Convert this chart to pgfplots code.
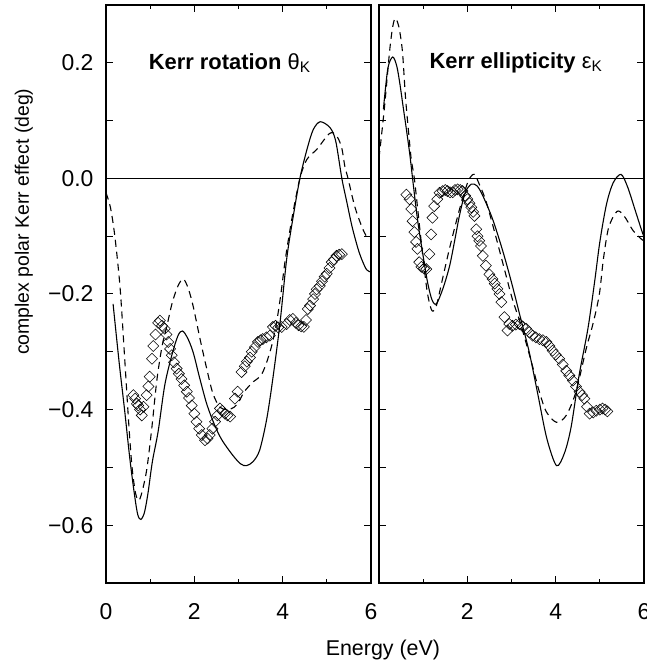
\documentclass[border=0pt]{standalone}
\usepackage{fontspec}
\setmainfont{Liberation Sans}
\usepackage{pgfplots}
\pgfplotsset{compat=1.18}
\begin{document}
\begin{tikzpicture}
\pgfplotsset{
  kerr/.style={
    scale only axis, width=265bp, height=578bp,
    xmin=0, xmax=6, ymin=-0.7, ymax=0.3,
    xtick={0,2,4,6}, minor xtick={1,3,5},
    ytick={-0.6,-0.5,-0.4,-0.3,-0.2,-0.1,0,0.1,0.2},
    tick align=inside, xtick pos=both, ytick pos=both,
    major tick length=7bp, minor tick length=4bp,
    every tick/.style={black, line width=1bp},
    axis line style={line width=1.4bp},
    tick label style={font=\fontsize{23}{27}\selectfont},
    xticklabel style={yshift=-17bp},
    yticklabel style={xshift=-9bp},
    /pgf/number format/assume math mode=true,
  },
  th/.style={black, line width=1.1bp, smooth, no markers},
  thd/.style={black, line width=1.1bp, smooth, no markers, dash pattern=on 7bp off 5bp},
  ex/.style={only marks, mark=square, mark size=3.9bp, mark options={rotate=45, line width=0.55bp, black, fill=none}},
}
% ---------------- left panel: Kerr rotation ----------------
\begin{axis}[kerr, at={(0bp,0bp)}, anchor=south west,
  xticklabels={0,2,4,6},
  yticklabels={−0.6,,−0.4,,−0.2,,0.0,,0.2},
  ylabel={complex polar Kerr effect (deg)},
  ylabel style={at={(axis description cs:-0.31,0.625)}, anchor=center, font=\fontsize{19.5}{23}\selectfont},
  xlabel={Energy (eV)},
  xlabel style={at={(axis description cs:1.045,-0.115)}, anchor=center, font=\fontsize{21.5}{25}\selectfont},
]
\addplot[black, line width=1.1bp] coordinates {(0,0) (6,0)};
\addplot[th] coordinates {
(0.16,-0.217) (0.30,-0.32) (0.42,-0.40) (0.54,-0.485) (0.65,-0.55) (0.72,-0.582) (0.79,-0.59)
(0.87,-0.578) (0.95,-0.545) (1.05,-0.49) (1.18,-0.438) (1.33,-0.358) (1.49,-0.306) (1.63,-0.272)
(1.73,-0.264) (1.84,-0.275) (1.97,-0.30) (2.12,-0.345) (2.28,-0.39) (2.45,-0.425) (2.62,-0.452)
(2.87,-0.479) (3.05,-0.494) (3.18,-0.497) (3.33,-0.49) (3.48,-0.47) (3.64,-0.416) (3.78,-0.345)
(3.94,-0.25) (4.09,-0.14) (4.23,-0.07) (4.39,0) (4.55,0.05) (4.69,0.084) (4.85,0.098)
(5.07,0.088) (5.20,0.065) (5.34,0.0) (5.45,-0.04) (5.57,-0.083) (5.70,-0.12) (5.79,-0.14)
(5.90,-0.158) (6.0,-0.162)};
\addplot[thd] coordinates {
(0.00,-0.025) (0.10,-0.05) (0.20,-0.10) (0.32,-0.19) (0.43,-0.32) (0.52,-0.43) (0.59,-0.50)
(0.67,-0.545) (0.75,-0.557) (0.84,-0.535) (0.93,-0.50) (1.04,-0.43) (1.15,-0.35) (1.27,-0.29)
(1.38,-0.255) (1.50,-0.215) (1.63,-0.186) (1.75,-0.174) (1.86,-0.19) (1.97,-0.22) (2.13,-0.278)
(2.28,-0.329) (2.42,-0.372) (2.58,-0.396) (2.75,-0.40) (2.90,-0.396) (3.02,-0.385) (3.12,-0.37)
(3.33,-0.352) (3.50,-0.342) (3.62,-0.322) (3.75,-0.29) (3.86,-0.25) (3.96,-0.20) (4.06,-0.14)
(4.22,-0.065) (4.39,0) (4.55,0.033) (4.77,0.05) (4.95,0.068) (5.05,0.077) (5.14,0.079)
(5.25,0.07) (5.34,0.052) (5.41,0.02) (5.48,0) (5.63,-0.048) (5.79,-0.083) (5.90,-0.10) (6.0,-0.10)};
\addplot[ex] coordinates {
(0.62,-0.375) (0.66,-0.381) (0.70,-0.39) (0.73,-0.393) (0.77,-0.40) (0.81,-0.41) (0.85,-0.395)
(0.92,-0.375) (0.96,-0.36) (0.99,-0.343) (1.04,-0.312) (1.07,-0.29) (1.12,-0.27) (1.18,-0.25)
(1.22,-0.246) (1.27,-0.255) (1.33,-0.26) (1.37,-0.27) (1.41,-0.283) (1.45,-0.295) (1.49,-0.306)
(1.54,-0.318) (1.60,-0.329) (1.65,-0.338) (1.71,-0.347) (1.77,-0.358) (1.83,-0.369) (1.88,-0.38)
(1.94,-0.393) (2.00,-0.407) (2.05,-0.421) (2.11,-0.433) (2.17,-0.444) (2.24,-0.453) (2.30,-0.45)
(2.35,-0.444) (2.41,-0.433) (2.47,-0.421) (2.52,-0.41) (2.58,-0.398) (2.63,-0.402) (2.69,-0.407)
(2.75,-0.41) (2.81,-0.412) (2.92,-0.381) (2.98,-0.369) (3.07,-0.335) (3.14,-0.325) (3.19,-0.317)
(3.26,-0.31) (3.30,-0.30) (3.37,-0.292) (3.44,-0.283) (3.50,-0.28) (3.55,-0.278) (3.63,-0.275)
(3.71,-0.272) (3.78,-0.257) (3.84,-0.255) (3.90,-0.258) (3.98,-0.257) (4.09,-0.252) (4.16,-0.245)
(4.23,-0.243) (4.30,-0.25) (4.36,-0.254) (4.42,-0.256) (4.48,-0.257) (4.53,-0.245) (4.57,-0.226)
(4.62,-0.22) (4.69,-0.209) (4.73,-0.2) (4.77,-0.192) (4.84,-0.186) (4.89,-0.178) (4.95,-0.17)
(5.00,-0.165) (5.06,-0.155) (5.11,-0.145) (5.16,-0.14) (5.22,-0.134) (5.28,-0.132) (5.34,-0.131)};
\node[font=\fontsize{22}{26}\selectfont\bfseries] at (axis cs:2.8,0.2) {Kerr rotation {\mdseries θ\textsubscript{K}}};
\end{axis}
% ---------------- right panel: Kerr ellipticity ----------------
\begin{axis}[kerr, at={(273bp,0bp)}, anchor=south west,
  xticklabels={,2,4,6},
  yticklabels={},
]
\addplot[black, line width=1.1bp] coordinates {(0,0) (6,0)};
\addplot[th] coordinates {
(0.10,0.12) (0.20,0.19) (0.31,0.21) (0.40,0.195) (0.47,0.165) (0.55,0.122) (0.62,0.085)
(0.70,0.04) (0.76,0.0) (0.87,-0.07) (0.99,-0.13) (1.10,-0.18) (1.20,-0.21) (1.30,-0.217)
(1.45,-0.19) (1.60,-0.151) (1.72,-0.105) (1.82,-0.065) (1.95,-0.025) (2.09,-0.01) (2.22,-0.013)
(2.35,-0.03) (2.57,-0.07) (2.80,-0.125) (3.00,-0.18) (3.20,-0.24) (3.40,-0.30) (3.60,-0.375)
(3.80,-0.45) (4.02,-0.497) (4.20,-0.475) (4.35,-0.43) (4.53,-0.341) (4.73,-0.26) (4.88,-0.18)
(5.00,-0.11) (5.15,-0.045) (5.30,-0.008) (5.48,0.007) (5.63,-0.015) (5.80,-0.055) (5.96,-0.093)
(6.0,-0.10)};
\addplot[thd] coordinates {
(0.00,0.035) (0.12,0.12) (0.24,0.22) (0.31,0.262) (0.37,0.277) (0.45,0.262) (0.53,0.22)
(0.60,0.14) (0.67,0.08) (0.73,0.033) (0.80,0.0) (0.90,-0.07) (1.00,-0.14) (1.10,-0.2)
(1.20,-0.229) (1.30,-0.22) (1.42,-0.18) (1.60,-0.12) (1.80,-0.06) (1.95,-0.02) (2.05,0.0)
(2.16,0.007) (2.27,-0.01) (2.43,-0.041) (2.66,-0.105) (2.88,-0.169) (3.02,-0.209) (3.20,-0.25)
(3.35,-0.29) (3.48,-0.326) (3.63,-0.369) (3.79,-0.404) (4.02,-0.422) (4.24,-0.41) (4.46,-0.369)
(4.69,-0.295) (4.85,-0.25) (4.99,-0.2) (5.08,-0.14) (5.20,-0.085) (5.39,-0.057) (5.55,-0.065)
(5.75,-0.09) (5.94,-0.105) (6.0,-0.108)};
\addplot[ex] coordinates {
(0.62,-0.028) (0.69,-0.036) (0.73,-0.053) (0.76,-0.074) (0.80,-0.093) (0.84,-0.11) (0.87,-0.122)
(0.91,-0.145) (0.96,-0.153) (1.02,-0.156) (1.07,-0.157) (1.14,-0.131) (1.18,-0.097) (1.21,-0.068)
(1.25,-0.048) (1.32,-0.036) (1.37,-0.025) (1.44,-0.022) (1.50,-0.02) (1.55,-0.022) (1.61,-0.024)
(1.67,-0.024) (1.72,-0.02) (1.78,-0.019) (1.84,-0.02) (1.89,-0.022) (1.95,-0.03) (2.00,-0.036)
(2.05,-0.043) (2.09,-0.05) (2.13,-0.058) (2.16,-0.065) (2.20,-0.088) (2.23,-0.1) (2.27,-0.108)
(2.31,-0.117) (2.35,-0.134) (2.42,-0.151) (2.50,-0.166) (2.57,-0.174) (2.62,-0.182) (2.68,-0.191)
(2.73,-0.2) (2.77,-0.214) (2.84,-0.24) (2.91,-0.263) (2.95,-0.252) (3.02,-0.255) (3.10,-0.253)
(3.18,-0.252) (3.25,-0.256) (3.33,-0.26) (3.40,-0.266) (3.48,-0.272) (3.55,-0.275) (3.63,-0.278)
(3.71,-0.28) (3.79,-0.283) (3.86,-0.29) (3.93,-0.298) (4.00,-0.305) (4.08,-0.312) (4.16,-0.322)
(4.24,-0.333) (4.31,-0.341) (4.39,-0.35) (4.46,-0.36) (4.54,-0.369) (4.60,-0.375) (4.65,-0.381)
(4.71,-0.395) (4.77,-0.407) (4.85,-0.405) (4.92,-0.402) (5.00,-0.40) (5.06,-0.398) (5.12,-0.40)
(5.17,-0.403)};
\node[font=\fontsize{22}{26}\selectfont\bfseries] at (axis cs:3.1,0.2) {Kerr ellipticity {\mdseries ε\textsubscript{K}}};
\end{axis}
\pgfresetboundingbox
\useasboundingbox (-106bp,-85bp) rectangle (541bp,583bp);
\end{tikzpicture}
\end{document}
